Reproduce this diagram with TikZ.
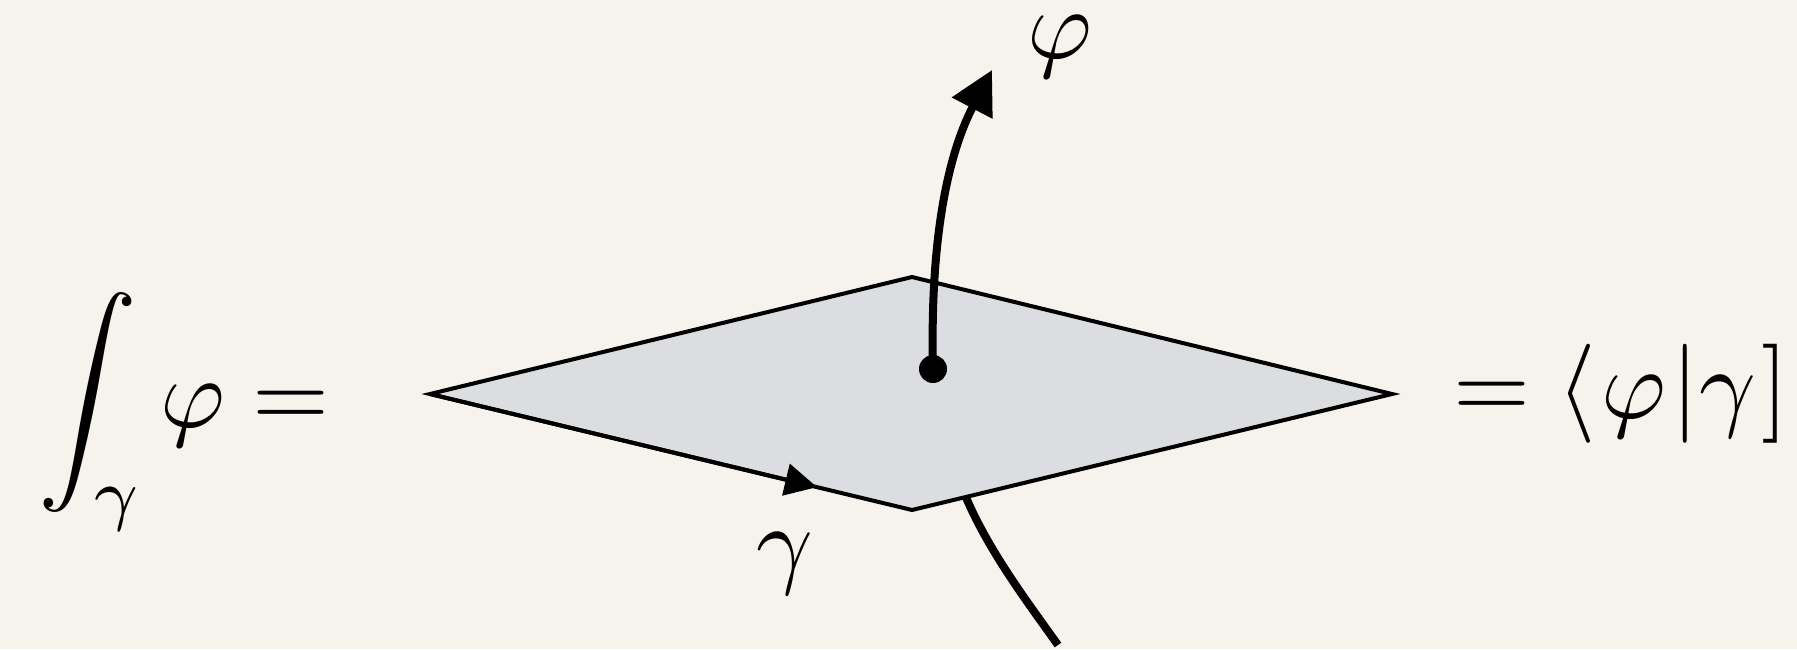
\documentclass[tikz,border=0pt]{standalone}
\usetikzlibrary{arrows.meta,calc}
\definecolor{bg}{HTML}{F5F3EB}
\definecolor{sheet}{HTML}{DCDDE0}
\newcommand{\bigmath}[1]{\scalebox{9.9}{$#1$}}
\begin{document}
\begin{tikzpicture}[x=1pt,y=-1pt,
  mathlbl/.style={inner sep=0pt, font=\fontsize{10}{12}\selectfont},
  edgeline/.style={line width=4pt, line join=miter},
  fatline/.style={line width=8pt}]
\useasboundingbox (0,0) rectangle (1797,649);
\fill[bg] (0,0) rectangle (1797,649);
\coordinate (L) at (430,394);
\coordinate (T) at (912,277);
\coordinate (R) at (1392,394);
\coordinate (B) at (912,510);
\coordinate (lowstart) at (962,488);
\coordinate (lowend) at (1058,645);
\draw[fatline] (lowstart) .. controls (985,545) and (1020,592) .. (lowend);
\filldraw[fill=sheet, edgeline] (L) -- (T) -- (R) -- (B) -- cycle;
\draw[edgeline, -{Triangle[length=32pt,width=32pt]}] (L) -- ($(L)!0.803!(B)$);
\node[circle, fill=black, inner sep=0pt, minimum size=28pt] (dot) at (933,369) {};
\coordinate (phitip) at (992,70);
\draw[fatline, -{Triangle[length=43pt,width=44pt]}] (dot.center) .. controls (930,250) and (945,160) .. (phitip);
\node[mathlbl] (philbl) at (1060,47) {\bigmath{\varphi}};
\node[mathlbl] (gammalbl) at (785,564) {\bigmath{\gamma}};
\node[mathlbl, anchor=base west] (lhs) at (38,427) {\bigmath{\displaystyle\int_\gamma \varphi =}};
\node[mathlbl, anchor=base west] (rhs) at (1453,418) {\bigmath{=\langle\mkern1mu\varphi\mkern1mu|\gamma\mkern1mu]}};
\end{tikzpicture}
\end{document}
